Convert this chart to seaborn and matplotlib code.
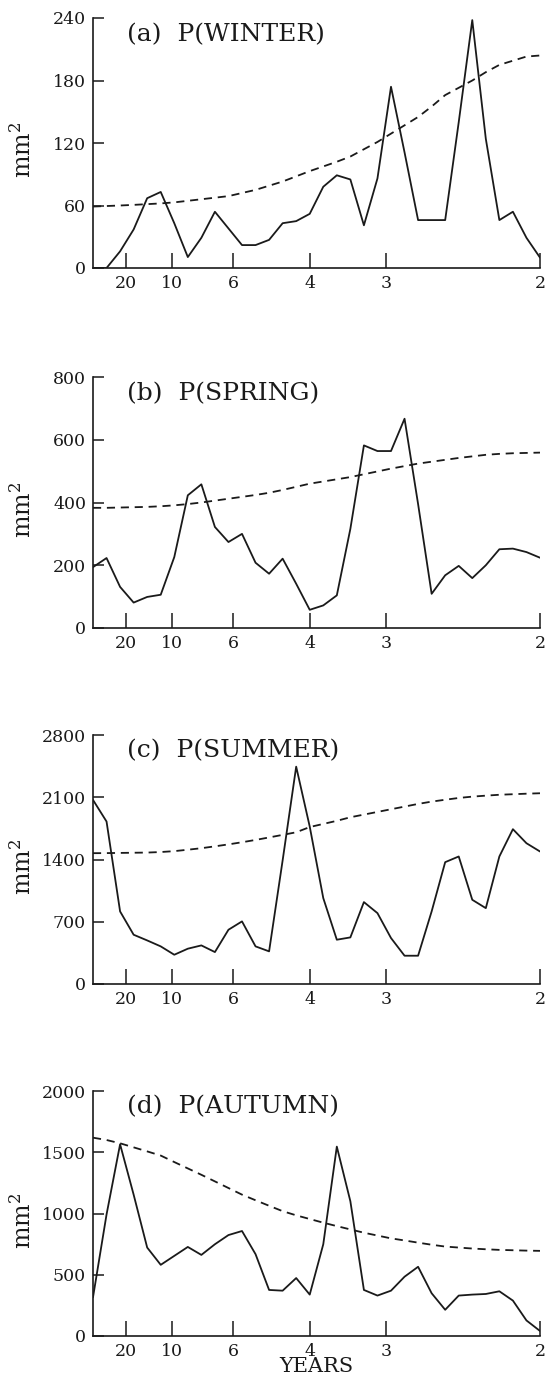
import numpy as np
import pandas as pd
import matplotlib
matplotlib.use("Agg")
import matplotlib.pyplot as plt
import seaborn as sns

# record length (years) -> spectral estimates at harmonics k/N, k = 1..34
N_YEARS = 68
harmonic = np.arange(1, 35)

period_ticks = [20, 10, 6, 4, 3, 2]

panel_titles = ["(a)  P(WINTER)", "(b)  P(SPRING)", "(c)  P(SUMMER)", "(d)  P(AUTUMN)"]

winter = [0, 0, 16, 37, 67, 73, 43, 10.5, 29, 54, 38, 22, 22, 27, 43, 45, 52,
          78, 89, 85, 41, 86, 174, 111, 46, 46, 46, 140, 238, 124, 46, 54, 29, 10]
winter_ref = [59, 59.5, 60, 60.6, 61.3, 62, 63, 64.5, 66, 67.5, 69, 72, 75, 79, 83, 88, 93,
              97.5, 102, 107, 114, 121, 129, 137, 145, 155, 166, 173, 180, 188, 195, 199, 203, 204]

spring = [194, 223, 131, 81, 99, 106, 226, 423, 458, 322, 274, 300, 208, 173, 221, 141, 58,
          72, 104, 316, 582, 564, 564, 667, 395, 109, 168, 198, 159, 200, 251, 253, 242, 224]
spring_ref = [383, 383, 384, 385, 386, 388, 391, 395, 400, 406, 412, 418, 424, 431, 440, 450, 460,
              467, 474, 481, 490, 499, 508, 516, 524, 530, 536, 542, 547, 552, 555, 557, 558, 559]

summer = [2070, 1827, 816, 554, 490, 423, 329, 397, 434, 359, 610, 704, 423, 367, 1390, 2444, 1770,
          966, 498, 524, 921, 797, 517, 318, 318, 816, 1370, 1434, 947, 853, 1434, 1741, 1583, 1490]
summer_ref = [1471, 1472, 1474, 1476, 1478, 1484, 1494, 1510, 1527, 1548, 1570, 1594, 1620, 1648, 1677, 1706, 1765,
              1800, 1835, 1875, 1905, 1935, 1965, 1995, 2025, 2051, 2072, 2092, 2107, 2118, 2128, 2134, 2140, 2145]

autumn = [316, 992, 1565, 1154, 722, 581, 654, 727, 662, 749, 824, 857, 668, 376, 370, 473, 338,
          749, 1546, 1100, 376, 330, 370, 484, 565, 349, 214, 330, 338, 343, 365, 289, 127, 41]
autumn_ref = [1619, 1600, 1573, 1540, 1507, 1473, 1420, 1368, 1316, 1262, 1208, 1154, 1108, 1063, 1019, 985, 955,
              925, 897, 870, 843, 820, 797, 780, 762, 745, 730, 722, 714, 708, 703, 700, 697, 695]

y_ticks = [[0, 60, 120, 180, 240],
           [0, 200, 400, 600, 800],
           [0, 700, 1400, 2100, 2800],
           [0, 500, 1000, 1500, 2000]]

sns.set_style("ticks")
plt.rcParams['font.family'] = ['DejaVu Serif']
plt.rcParams['mathtext.fontset'] = 'dejavuserif'

INK = "#1a1a1a"

fig = plt.figure(figsize=(5.51, 13.85), dpi=100)

# axes boxes in pixels (left, top, right, bottom)
boxes = [(93, 18, 540, 268), (93, 377, 540, 628), (93, 735, 540, 984), (93, 1091, 540, 1336)]

series = [(winter, winter_ref), (spring, spring_ref), (summer, summer_ref), (autumn, autumn_ref)]

for i, ((vals, ref), box) in enumerate(zip(series, boxes)):
    l, t, r, b = box
    ax = fig.add_axes([l / 551, 1 - b / 1385, (r - l) / 551, (b - t) / 1385])
    df = pd.DataFrame({"freq": harmonic / N_YEARS, "power": vals, "ref": ref})
    sns.lineplot(data=df, x="freq", y="power", ax=ax, color=INK, lw=1.3)
    sns.lineplot(data=df, x="freq", y="ref", ax=ax, color=INK, lw=1.3,
                 linestyle=(0, (4.5, 3.2)))

    ax.set_xlim(1 / N_YEARS, 0.5)
    ax.set_ylim(y_ticks[i][0], y_ticks[i][-1])
    ax.set_xticks([1 / p for p in period_ticks])
    ax.set_xticklabels([str(p) for p in period_ticks])
    ax.set_yticks(y_ticks[i])
    ax.tick_params(axis="x", direction="in", length=11, width=1.1, pad=5,
                   labelsize=12.5, colors=INK)
    ax.tick_params(axis="y", direction="in", length=8, width=1.1, pad=5,
                   labelsize=12.5, colors=INK)
    sns.despine(ax=ax)
    for s in ["left", "bottom"]:
        ax.spines[s].set_linewidth(1.2)
        ax.spines[s].set_color(INK)
    ax.set_xlabel("")
    ax.set_ylabel("mm$^2$", fontsize=17, color=INK)
    ax.yaxis.set_label_coords(-0.128, 0.47)
    ax.text(0.076, 0.935, panel_titles[i], transform=ax.transAxes,
            fontsize=18, color=INK, va="center", ha="left")

ax.set_xlabel("YEARS", fontsize=15, color=INK, labelpad=-2)

fig.savefig("out.png", dpi=100)
